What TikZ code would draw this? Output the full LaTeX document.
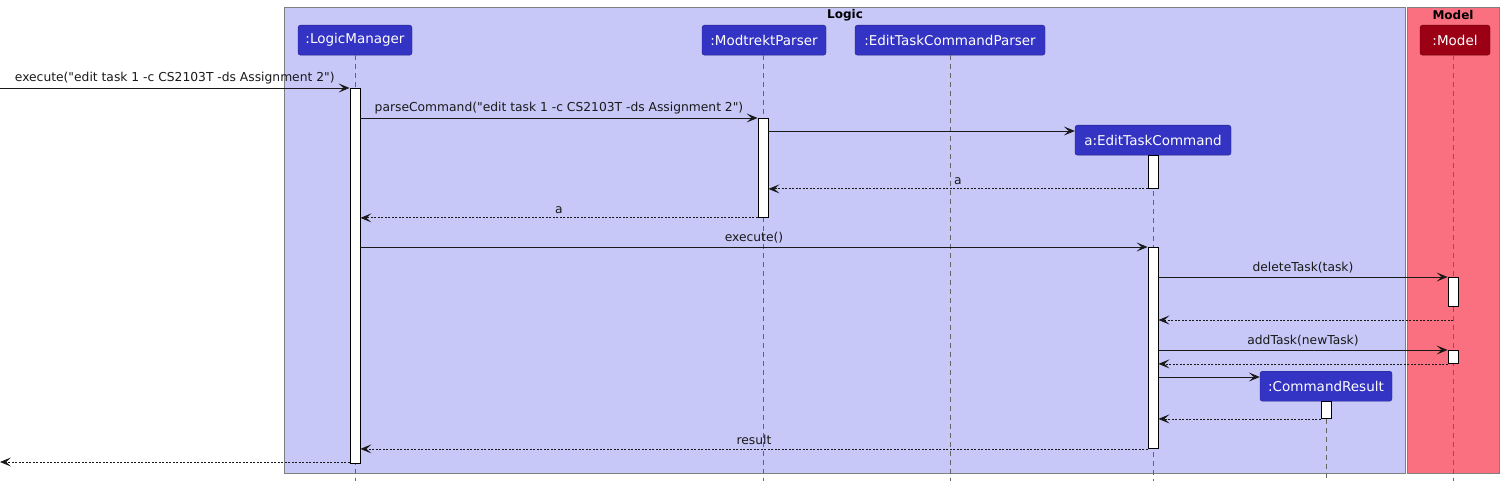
\documentclass[tikz,border=0pt]{standalone}
\usepackage{fontspec}
\setmainfont{DejaVu Sans}[Ligatures=TeXOff]
\usetikzlibrary{arrows.meta}
\definecolor{logicbg}{RGB}{200,200,248}
\definecolor{modelbg}{RGB}{250,112,128}
\definecolor{partblue}{RGB}{51,51,196}
\definecolor{partred}{RGB}{155,0,20}
\definecolor{framegray}{RGB}{128,128,128}
\definecolor{lifegray}{RGB}{100,100,100}
\begin{document}
\begin{tikzpicture}[x=1pt,y=-1pt,
  frame/.style={draw=framegray, line width=0.8pt},
  ftitle/.style={font=\fontsize{12}{14}\selectfont\bfseries, anchor=center},
  part/.style={draw=partblue!70!black, fill=partblue, text=white, rounded corners=2.5pt,
    minimum height=30pt, inner sep=0pt, anchor=north,
    font=\fontsize{13.5}{16}\selectfont},
  partm/.style={part, draw=partred!70!black, fill=partred},
  life/.style={draw=lifegray, line width=0.6pt, dash pattern=on 5pt off 4pt},
  act/.style={draw=black, fill=white, line width=0.9pt, minimum width=10pt, inner sep=0pt, anchor=north},
  msg/.style={-{Stealth[length=11pt,width=9pt,inset=5pt]}, line width=0.8pt, black!90},
  ret/.style={msg, dash pattern=on 2pt off 1.5pt},
  lbl/.style={font=\fontsize{12.3}{14}\selectfont, above=2.5pt, midway, inner sep=1pt}
]
\useasboundingbox (0,0) rectangle (1504,486);
% frames
\node[frame, fill=logicbg, minimum width=1121pt, minimum height=466pt, anchor=north west, inner sep=0pt] (logic) at (284,7) {};
\node[frame, fill=modelbg, minimum width=92pt, minimum height=466pt, anchor=north west, inner sep=0pt] (model) at (1407,7) {};
\node[ftitle] (logict) at (845,15) {Logic};
\node[ftitle] (modelt) at (1453,15) {Model};
% participants
\node[part, minimum width=114pt] (lm) at (355,25) {:LogicManager};
\node[part, minimum width=124pt] (mp) at (764,25) {:ModtrektParser};
\node[part, minimum width=190pt] (etcp) at (950,25) {:EditTaskCommandParser};
\node[part, minimum width=156pt] (etc) at (1153,125) {a:EditTaskCommand};
\node[partm, minimum width=70pt] (md) at (1455,25) {:Model};
\node[part, minimum width=132pt] (cr) at (1326,371) {:CommandResult};
% lifelines
\coordinate (lmEnd) at (355,481);
\coordinate (mpEnd) at (763,481);
\coordinate (etcpEnd) at (950,481);
\coordinate (etcEnd) at (1153,481);
\coordinate (mdEnd) at (1453,481);
\coordinate (crEnd) at (1326,481);
\draw[life] (lm.south) -- (lmEnd);
\draw[life] (mp.south -| mpEnd) -- (mpEnd);
\draw[life] (etcp.south) -- (etcpEnd);
\draw[life] (etc.south) -- (etcEnd);
\draw[life] (md.south -| mdEnd) -- (mdEnd);
\draw[life] (cr.south) -- (crEnd);
% activations
\node[act, minimum height=375pt] (lmA) at (355,88) {};
\node[act, minimum height=99pt] (mpA) at (763,118) {};
\node[act, minimum height=33pt] (etcA1) at (1153,155) {};
\node[act, minimum height=201pt] (etcA2) at (1153,247) {};
\node[act, minimum height=29pt] (mdA1) at (1453,277) {};
\node[act, minimum height=13pt] (mdA2) at (1453,350) {};
\node[act, minimum height=17pt] (crA) at (1326,401) {};
% messages
\coordinate (caller) at (0,88);
\coordinate (callerR) at (0,462);
\draw[msg] (caller) -- (lmA.north west) node[lbl] {execute("edit task 1 -c CS2103T -ds Assignment 2")};
\draw[msg] (lmA.east |- mpA.north) -- (mpA.north west) node[lbl] {parseCommand("edit task 1 -c CS2103T -ds Assignment 2")};
\draw[msg] (mpA.east |- 0,131) -- (etc.west |- 0,131);
\draw[ret] (etcA1.south west) -- (mpA.east |- etcA1.south) node[lbl] {a};
\draw[ret] (mpA.south west) -- (lmA.east |- mpA.south) node[lbl] {a};
\draw[msg] (lmA.east |- etcA2.north) -- (etcA2.north west) node[lbl] {execute()};
\draw[msg] (etcA2.east |- mdA1.north) -- (mdA1.north west) node[lbl] {deleteTask(task)};
\draw[ret] (mdA1.south |- 0,320) -- (etcA2.east |- 0,320);
\draw[msg] (etcA2.east |- mdA2.north) -- (mdA2.north west) node[lbl] {addTask(newTask)};
\draw[ret] (mdA2.south west) -- (etcA2.east |- mdA2.south);
\draw[msg] (etcA2.east |- 0,377) -- (cr.west |- 0,377);
\draw[ret] (crA.south west) -- (etcA2.east |- crA.south);
\draw[ret] (etcA2.south west) -- (lmA.east |- etcA2.south) node[lbl] {result};
\draw[ret] (lmA.south west |- callerR) -- (callerR);
\end{tikzpicture}
\end{document}
